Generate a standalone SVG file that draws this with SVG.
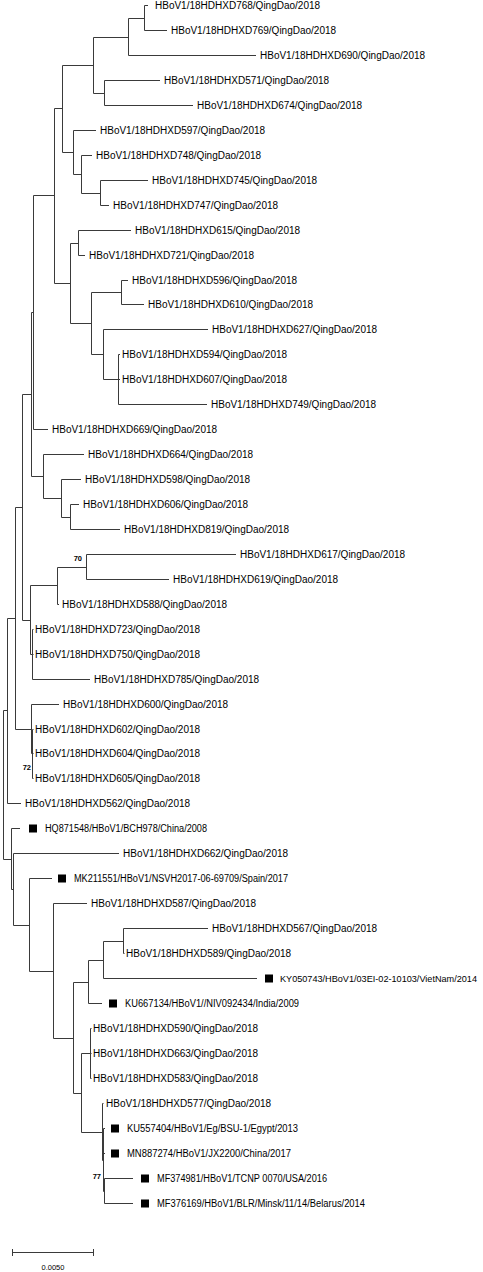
<svg xmlns="http://www.w3.org/2000/svg" width="483" height="1272" viewBox="0 0 483 1272">
<style>
text{font-family:"Liberation Sans",Arial,sans-serif;font-size:10px;fill:#000}
.bs{font-size:7.5px;font-weight:bold;text-anchor:end}
.sc{font-size:7.5px;text-anchor:middle}
.br{fill:none;stroke:#3a3a3a;stroke-width:1}
.mk{fill:#000}
</style>
<rect width="483" height="1272" fill="#fff"/>
<g id="connectors" class="br">
<path d="M144.5 5.5V30.5M144.5 5.5H148M144.5 30.5H167"/>
<path d="M128.5 18.5V55.5M128.5 18.5H144.5M128.5 55.5H256"/>
<path d="M104.5 80.5V105.5M104.5 80.5H160M104.5 105.5H193"/>
<path d="M93.5 37.5V93.5M93.5 37.5H128.5M93.5 93.5H104.5"/>
<path d="M100.5 180.5V205.5M100.5 180.5H148M100.5 205.5H109"/>
<path d="M81.5 155.5V193.5M81.5 155.5H92M81.5 193.5H100.5"/>
<path d="M73.5 130.5V174.5M73.5 130.5H96M73.5 174.5H81.5"/>
<path d="M62.5 65.5V152.5M62.5 65.5H93.5M62.5 152.5H73.5"/>
<path d="M78.5 230.5V255.5M78.5 230.5H131M78.5 255.5H85"/>
<path d="M121.5 280.5V304.5M121.5 280.5H128M121.5 304.5H144"/>
<path d="M118.5 354.5V404.5M118.5 354.5H120M118.5 379.5H120M118.5 404.5H207"/>
<path d="M103.5 329.5V379.5M103.5 329.5H208M103.5 379.5H118.5"/>
<path d="M91.5 292.5V354.5M91.5 292.5H121.5M91.5 354.5H103.5"/>
<path d="M70.5 243.5V323.5M70.5 243.5H78.5M70.5 323.5H91.5"/>
<path d="M54.5 108.5V283.5M54.5 108.5H62.5M54.5 283.5H70.5"/>
<path d="M33.5 195.5V429.5M33.5 195.5H54.5M33.5 429.5H48"/>
<path d="M70.5 504.5V529.5M70.5 504.5H79M70.5 529.5H120"/>
<path d="M61.5 479.5V517.5M61.5 479.5H81M61.5 517.5H70.5"/>
<path d="M43.5 454.5V498.5M43.5 454.5H84M43.5 498.5H61.5"/>
<path d="M31.5 312.5V476.5M31.5 312.5H33.5M31.5 476.5H43.5"/>
<path d="M86.5 554.5V579.5M86.5 554.5H236M86.5 579.5H169"/>
<path d="M57.5 567.5V604.5M57.5 567.5H86.5M57.5 604.5H59"/>
<path d="M32.5 629.5V679.5M32.5 629.5H33.5M32.5 654.5H33.5M32.5 679.5H90"/>
<path d="M30.5 585.5V654.5M30.5 585.5H57.5M30.5 654.5H32.5"/>
<path d="M22.5 394.5V620.5M22.5 394.5H31.5M22.5 620.5H30.5"/>
<path d="M32.5 729.5V778.5M32.5 729.5H33.5M32.5 753.5H33.5M32.5 778.5H33.5"/>
<path d="M31.5 704.5V753.5M31.5 704.5H59M31.5 753.5H32.5"/>
<path d="M15.5 507.5V729.5M15.5 507.5H22.5M15.5 729.5H31.5"/>
<path d="M7.5 618.5V803.5M7.5 618.5H15.5M7.5 803.5H21"/>
<path d="M123.5 928.5V953.5M123.5 928.5H208M123.5 953.5H124.5"/>
<path d="M103.5 941.5V978.5M103.5 941.5H123.5M103.5 978.5H257"/>
<path d="M88.5 960.5V1003.5M88.5 960.5H103.5M88.5 1003.5H102"/>
<path d="M90.5 1028.5V1078.5M90.5 1028.5H91.5M90.5 1053.5H91.5M90.5 1078.5H91.5"/>
<path d="M104.5 1178.5V1203.5M104.5 1178.5H133M104.5 1203.5H133"/>
<path d="M103.5 1128.5V1191.5M103.5 1128.5H105M103.5 1153.5H105M103.5 1191.5H104.5"/>
<path d="M102.5 1103.5V1160.5M102.5 1103.5H103.5M102.5 1160.5H103.5"/>
<path d="M81.5 1053.5V1132.5M81.5 1053.5H90.5M81.5 1132.5H102.5"/>
<path d="M73.5 982.5V1093.5M73.5 982.5H88.5M73.5 1093.5H81.5"/>
<path d="M53.5 903.5V1038.5M53.5 903.5H87M53.5 1038.5H73.5"/>
<path d="M29.5 878.5V971.5M29.5 878.5H52M29.5 971.5H53.5"/>
<path d="M13.5 853.5V925.5M13.5 853.5H119M13.5 925.5H29.5"/>
<path d="M11.5 828.5V889.5M11.5 828.5H20M11.5 889.5H13.5"/>
<path d="M3.5 710.5V859.5M3.5 710.5H7.5M3.5 859.5H11.5"/>
</g>
<g id="n768"><text x="155" y="9">HBoV1/18HDHXD768/QingDao/2018</text></g>
<g id="n769"><text x="171" y="34">HBoV1/18HDHXD769/QingDao/2018</text></g>
<g id="n690"><text x="260" y="59">HBoV1/18HDHXD690/QingDao/2018</text></g>
<g id="n571"><text x="164" y="84">HBoV1/18HDHXD571/QingDao/2018</text></g>
<g id="n674"><text x="197" y="109">HBoV1/18HDHXD674/QingDao/2018</text></g>
<g id="n597"><text x="100" y="134">HBoV1/18HDHXD597/QingDao/2018</text></g>
<g id="n748"><text x="96" y="159">HBoV1/18HDHXD748/QingDao/2018</text></g>
<g id="n745"><text x="152" y="184">HBoV1/18HDHXD745/QingDao/2018</text></g>
<g id="n747"><text x="113" y="209">HBoV1/18HDHXD747/QingDao/2018</text></g>
<g id="n615"><text x="135" y="234">HBoV1/18HDHXD615/QingDao/2018</text></g>
<g id="n721"><text x="89" y="259">HBoV1/18HDHXD721/QingDao/2018</text></g>
<g id="n596"><text x="132" y="284">HBoV1/18HDHXD596/QingDao/2018</text></g>
<g id="n610"><text x="148" y="308">HBoV1/18HDHXD610/QingDao/2018</text></g>
<g id="n627"><text x="212" y="333">HBoV1/18HDHXD627/QingDao/2018</text></g>
<g id="n594"><text x="122" y="358">HBoV1/18HDHXD594/QingDao/2018</text></g>
<g id="n607"><text x="122" y="383">HBoV1/18HDHXD607/QingDao/2018</text></g>
<g id="n749"><text x="211" y="408">HBoV1/18HDHXD749/QingDao/2018</text></g>
<g id="n669"><text x="52" y="433">HBoV1/18HDHXD669/QingDao/2018</text></g>
<g id="n664"><text x="88" y="458">HBoV1/18HDHXD664/QingDao/2018</text></g>
<g id="n598"><text x="85" y="483">HBoV1/18HDHXD598/QingDao/2018</text></g>
<g id="n606"><text x="83" y="508">HBoV1/18HDHXD606/QingDao/2018</text></g>
<g id="n819"><text x="124" y="533">HBoV1/18HDHXD819/QingDao/2018</text></g>
<g id="n617"><text x="240" y="558">HBoV1/18HDHXD617/QingDao/2018</text></g>
<g id="n619"><text x="173" y="583">HBoV1/18HDHXD619/QingDao/2018</text></g>
<g id="n588"><text x="62" y="608">HBoV1/18HDHXD588/QingDao/2018</text></g>
<g id="n723"><text x="35" y="633">HBoV1/18HDHXD723/QingDao/2018</text></g>
<g id="n750"><text x="35" y="658">HBoV1/18HDHXD750/QingDao/2018</text></g>
<g id="n785"><text x="94" y="683">HBoV1/18HDHXD785/QingDao/2018</text></g>
<g id="n600"><text x="63" y="708">HBoV1/18HDHXD600/QingDao/2018</text></g>
<g id="n602"><text x="35" y="733">HBoV1/18HDHXD602/QingDao/2018</text></g>
<g id="n604"><text x="35" y="757">HBoV1/18HDHXD604/QingDao/2018</text></g>
<g id="n605"><text x="35" y="782">HBoV1/18HDHXD605/QingDao/2018</text></g>
<g id="n562"><text x="25" y="807">HBoV1/18HDHXD562/QingDao/2018</text></g>
<g id="nHQ871548"><rect class="mk" x="29" y="824.5" width="8" height="8"/><text x="45" y="832" textLength="162" lengthAdjust="spacingAndGlyphs">HQ871548/HBoV1/BCH978/China/2008</text></g>
<g id="n662"><text x="123" y="857">HBoV1/18HDHXD662/QingDao/2018</text></g>
<g id="nMK211551"><rect class="mk" x="58" y="874.5" width="8" height="8"/><text x="74" y="882" textLength="214" lengthAdjust="spacingAndGlyphs">MK211551/HBoV1/NSVH2017-06-69709/Spain/2017</text></g>
<g id="n587"><text x="91" y="907">HBoV1/18HDHXD587/QingDao/2018</text></g>
<g id="n567"><text x="212" y="932">HBoV1/18HDHXD567/QingDao/2018</text></g>
<g id="n589"><text x="126" y="957">HBoV1/18HDHXD589/QingDao/2018</text></g>
<g id="nKY050743"><rect class="mk" x="265" y="974.5" width="8" height="8"/><text x="280" y="982" style="font-size:9.2px" textLength="197" lengthAdjust="spacingAndGlyphs">KY050743/HBoV1/03EI-02-10103/VietNam/2014</text></g>
<g id="nKU667134"><rect class="mk" x="109" y="999.5" width="8" height="8"/><text x="125" y="1007" textLength="174" lengthAdjust="spacingAndGlyphs">KU667134/HBoV1//NIV092434/India/2009</text></g>
<g id="n590"><text x="93" y="1032">HBoV1/18HDHXD590/QingDao/2018</text></g>
<g id="n663"><text x="93" y="1057">HBoV1/18HDHXD663/QingDao/2018</text></g>
<g id="n583"><text x="93" y="1082">HBoV1/18HDHXD583/QingDao/2018</text></g>
<g id="n577"><text x="106" y="1107">HBoV1/18HDHXD577/QingDao/2018</text></g>
<g id="nKU557404"><rect class="mk" x="111" y="1124.5" width="8" height="8"/><text x="127" y="1132" textLength="171" lengthAdjust="spacingAndGlyphs">KU557404/HBoV1/Eg/BSU-1/Egypt/2013</text></g>
<g id="nMN887274"><rect class="mk" x="111" y="1149.5" width="8" height="8"/><text x="127" y="1157" textLength="164" lengthAdjust="spacingAndGlyphs">MN887274/HBoV1/JX2200/China/2017</text></g>
<g id="nMF374981"><rect class="mk" x="141" y="1174.5" width="8" height="8"/><text x="157" y="1182" textLength="170" lengthAdjust="spacingAndGlyphs">MF374981/HBoV1/TCNP 0070/USA/2016</text></g>
<g id="nMF376169"><rect class="mk" x="141" y="1199.5" width="8" height="8"/><text x="157" y="1207" textLength="208" lengthAdjust="spacingAndGlyphs">MF376169/HBoV1/BLR/Minsk/11/14/Belarus/2014</text></g>
<g id="bootstrap">
<text class="bs" x="82" y="561">70</text>
<text class="bs" x="31" y="770">72</text>
<text class="bs" x="101" y="1179">77</text>
</g>
<g id="scale">
<path class="br" d="M12.5 1252.5H93.5M12.5 1249V1256M93.5 1249V1256"/>
<text class="sc" x="53" y="1270">0.0050</text>
</g>
</svg>
